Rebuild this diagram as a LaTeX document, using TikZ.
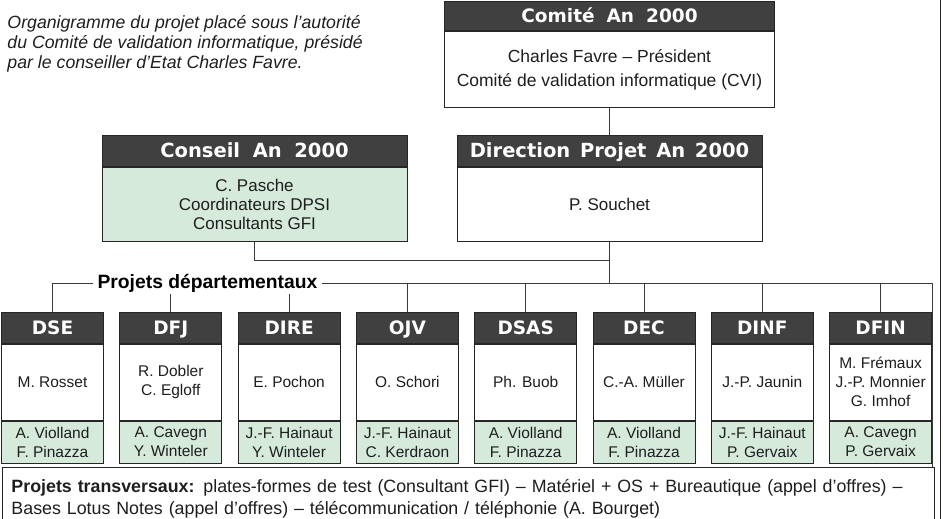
\documentclass[tikz,border=0pt]{standalone}
\usepackage{fontspec}
\setmainfont{Liberation Sans}
\newfontfamily\headfont{DejaVu Sans}
\usetikzlibrary{positioning}
\definecolor{bandgrey}{HTML}{404040}
\definecolor{mintfill}{HTML}{D5EADB}
\definecolor{framegrey}{HTML}{262626}
\definecolor{wiregrey}{HTML}{3A3A3A}
\definecolor{inkgrey}{HTML}{1E1E1E}

\begin{document}
\begin{tikzpicture}[x=1pt, y=-1pt, line width=1pt,
    headbar/.style={draw=framegrey, fill=bandgrey, text=white, inner sep=0pt, text height=13.5pt, text depth=0pt, font=\headfont\bfseries\fontsize{18.5}{22}\selectfont},
    plainpart/.style={draw=framegrey, fill=white, inner sep=0pt, align=center, text=inkgrey},
    depthead/.style={headbar, minimum width=102pt, minimum height=31pt},
    deptbody/.style={plainpart, minimum width=102pt, minimum height=76pt, font=\fontsize{15.5}{19}\selectfont},
    deptteam/.style={deptbody, fill=mintfill, minimum height=42pt},
    wire/.style={draw=wiregrey, line width=1pt}]
  \useasboundingbox (0,0) rectangle (943,519);

  % note at top left
  \node[anchor=north west, inner sep=0pt, align=left, text=inkgrey, font=\itshape\fontsize{17.7}{20}\selectfont] (note) at (7,15)
    {Organigramme du projet placé sous l’autorité\\du Comité de validation informatique, présidé\\par le conseiller d’Etat Charles Favre.};

  % steering level
  \node[headbar, minimum width=330pt, minimum height=29pt] (comite) at (609.5,16) {Comité\hspace{.3em} An\hspace{.3em} 2000};
  \node[plainpart, minimum width=330pt, minimum height=76pt, font=\fontsize{17.5}{24}\selectfont, below=0pt of comite] (comite-body) {Charles Favre – Président\\Comité de validation informatique (CVI)};
  \node[headbar, minimum width=305pt, minimum height=31pt, text height=14.2pt, font=\headfont\bfseries\fontsize{19.5}{22}\selectfont] (direction) at (609.5,150.5) {Direction\hspace{.15em} Projet\hspace{.15em} An\hspace{.15em} 2000};
  \node[plainpart, minimum width=305pt, minimum height=74pt, font=\fontsize{17}{19}\selectfont, below=0pt of direction] (direction-body) {P. Souchet};
  \node[headbar, minimum width=305pt, minimum height=31pt, text height=14.2pt, font=\headfont\bfseries\fontsize{19.5}{22}\selectfont, left=49pt of direction] (conseil) {Conseil\hspace{.3em} An\hspace{.3em} 2000};
  \node[plainpart, fill=mintfill, minimum width=305pt, minimum height=74pt, font=\fontsize{17}{19}\selectfont, below=0pt of conseil] (conseil-body) {C. Pasche\\Coordinateurs DPSI\\Consultants GFI};

  % departments
  \node[depthead] (dse) at (52.5,327.5) {DSE};
  \node[deptbody, below=0pt of dse] (dse-body) {M. Rosset};
  \node[deptteam, below=0pt of dse-body] (dse-team) {A. Violland\\F. Pinazza};
  \node[depthead, right=15.3pt of dse] (dfj) {DFJ};
  \node[deptbody, below=0pt of dfj] (dfj-body) {R. Dobler\\C. Egloff};
  \node[deptteam, below=0pt of dfj-body] (dfj-team) {A. Cavegn\\Y. Winteler};
  \node[depthead, right=15.3pt of dfj] (dire) {DIRE};
  \node[deptbody, below=0pt of dire] (dire-body) {E. Pochon};
  \node[deptteam, below=0pt of dire-body] (dire-team) {J.-F. Hainaut\\Y. Winteler};
  \node[depthead, right=15.3pt of dire] (ojv) {OJV};
  \node[deptbody, below=0pt of ojv] (ojv-body) {O. Schori};
  \node[deptteam, below=0pt of ojv-body] (ojv-team) {J.-F. Hainaut\\C. Kerdraon};
  \node[depthead, right=15.3pt of ojv] (dsas) {DSAS};
  \node[deptbody, below=0pt of dsas] (dsas-body) {Ph. Buob};
  \node[deptteam, below=0pt of dsas-body] (dsas-team) {A. Violland\\F. Pinazza};
  \node[depthead, right=15.3pt of dsas] (dec) {DEC};
  \node[deptbody, below=0pt of dec] (dec-body) {C.-A. Müller};
  \node[deptteam, below=0pt of dec-body] (dec-team) {A. Violland\\F. Pinazza};
  \node[depthead, right=15.3pt of dec] (dinf) {DINF};
  \node[deptbody, below=0pt of dinf] (dinf-body) {J.-P. Jaunin};
  \node[deptteam, below=0pt of dinf-body] (dinf-team) {J.-F. Hainaut\\P. Gervaix};
  \node[depthead, right=15.3pt of dinf] (dfin) {DFIN};
  \node[deptbody, below=0pt of dfin] (dfin-body) {M. Frémaux\\J.-P. Monnier\\G. Imhof};
  \node[deptteam, below=0pt of dfin-body] (dfin-team) {A. Cavegn\\P. Gervaix};

  % cross projects
  \node[draw=framegrey, fill=white, anchor=north west, minimum width=932pt, minimum height=62pt, text width=914pt, inner xsep=9pt, inner ysep=0pt, align=left, text=inkgrey, font=\fontsize{17.8}{22}\selectfont] (transv) at (2,467)
    {\textbf{Projets transversaux:} plates-formes de test (Consultant GFI) – Matériel + OS + Bureautique (appel d’offres) –\\Bases Lotus Notes (appel d’offres) – télécommunication / téléphonie (A. Bourget)};

  % links
  \coordinate (merge) at (609.5,260);
  \coordinate (bus) at (609.5,283);
  \coordinate (busend) at (932,283);
  \draw[wire] (comite-body.south) -- (direction.north);
  \draw[wire] (conseil-body.south) |- (merge);
  \draw[wire] (direction-body.south) -- (bus);
  \draw[wire] (dse.north) |- (busend) -- (busend |- transv.north);
  \draw[wire] (dfj.north) -- (dfj.north |- bus);
  \draw[wire] (dire.north) -- (dire.north |- bus);
  \draw[wire] (ojv.north) -- (ojv.north |- bus);
  \draw[wire] (dsas.north) -- (dsas.north |- bus);
  \draw[wire] (dec.north) -- (dec.north |- bus);
  \draw[wire] (dinf.north) -- (dinf.north |- bus);
  \draw[wire] (dfin.north) -- (dfin.north |- bus);
  \node[fill=white, inner xsep=5pt, inner ysep=2pt, anchor=base, font=\bfseries\fontsize{19.3}{22}\selectfont] (deptlabel) at (207.5,288) {Projets départementaux};

  % page rule on the right
  \draw[framegrey] (940,0) -- (940,519);
\end{tikzpicture}
\end{document}
